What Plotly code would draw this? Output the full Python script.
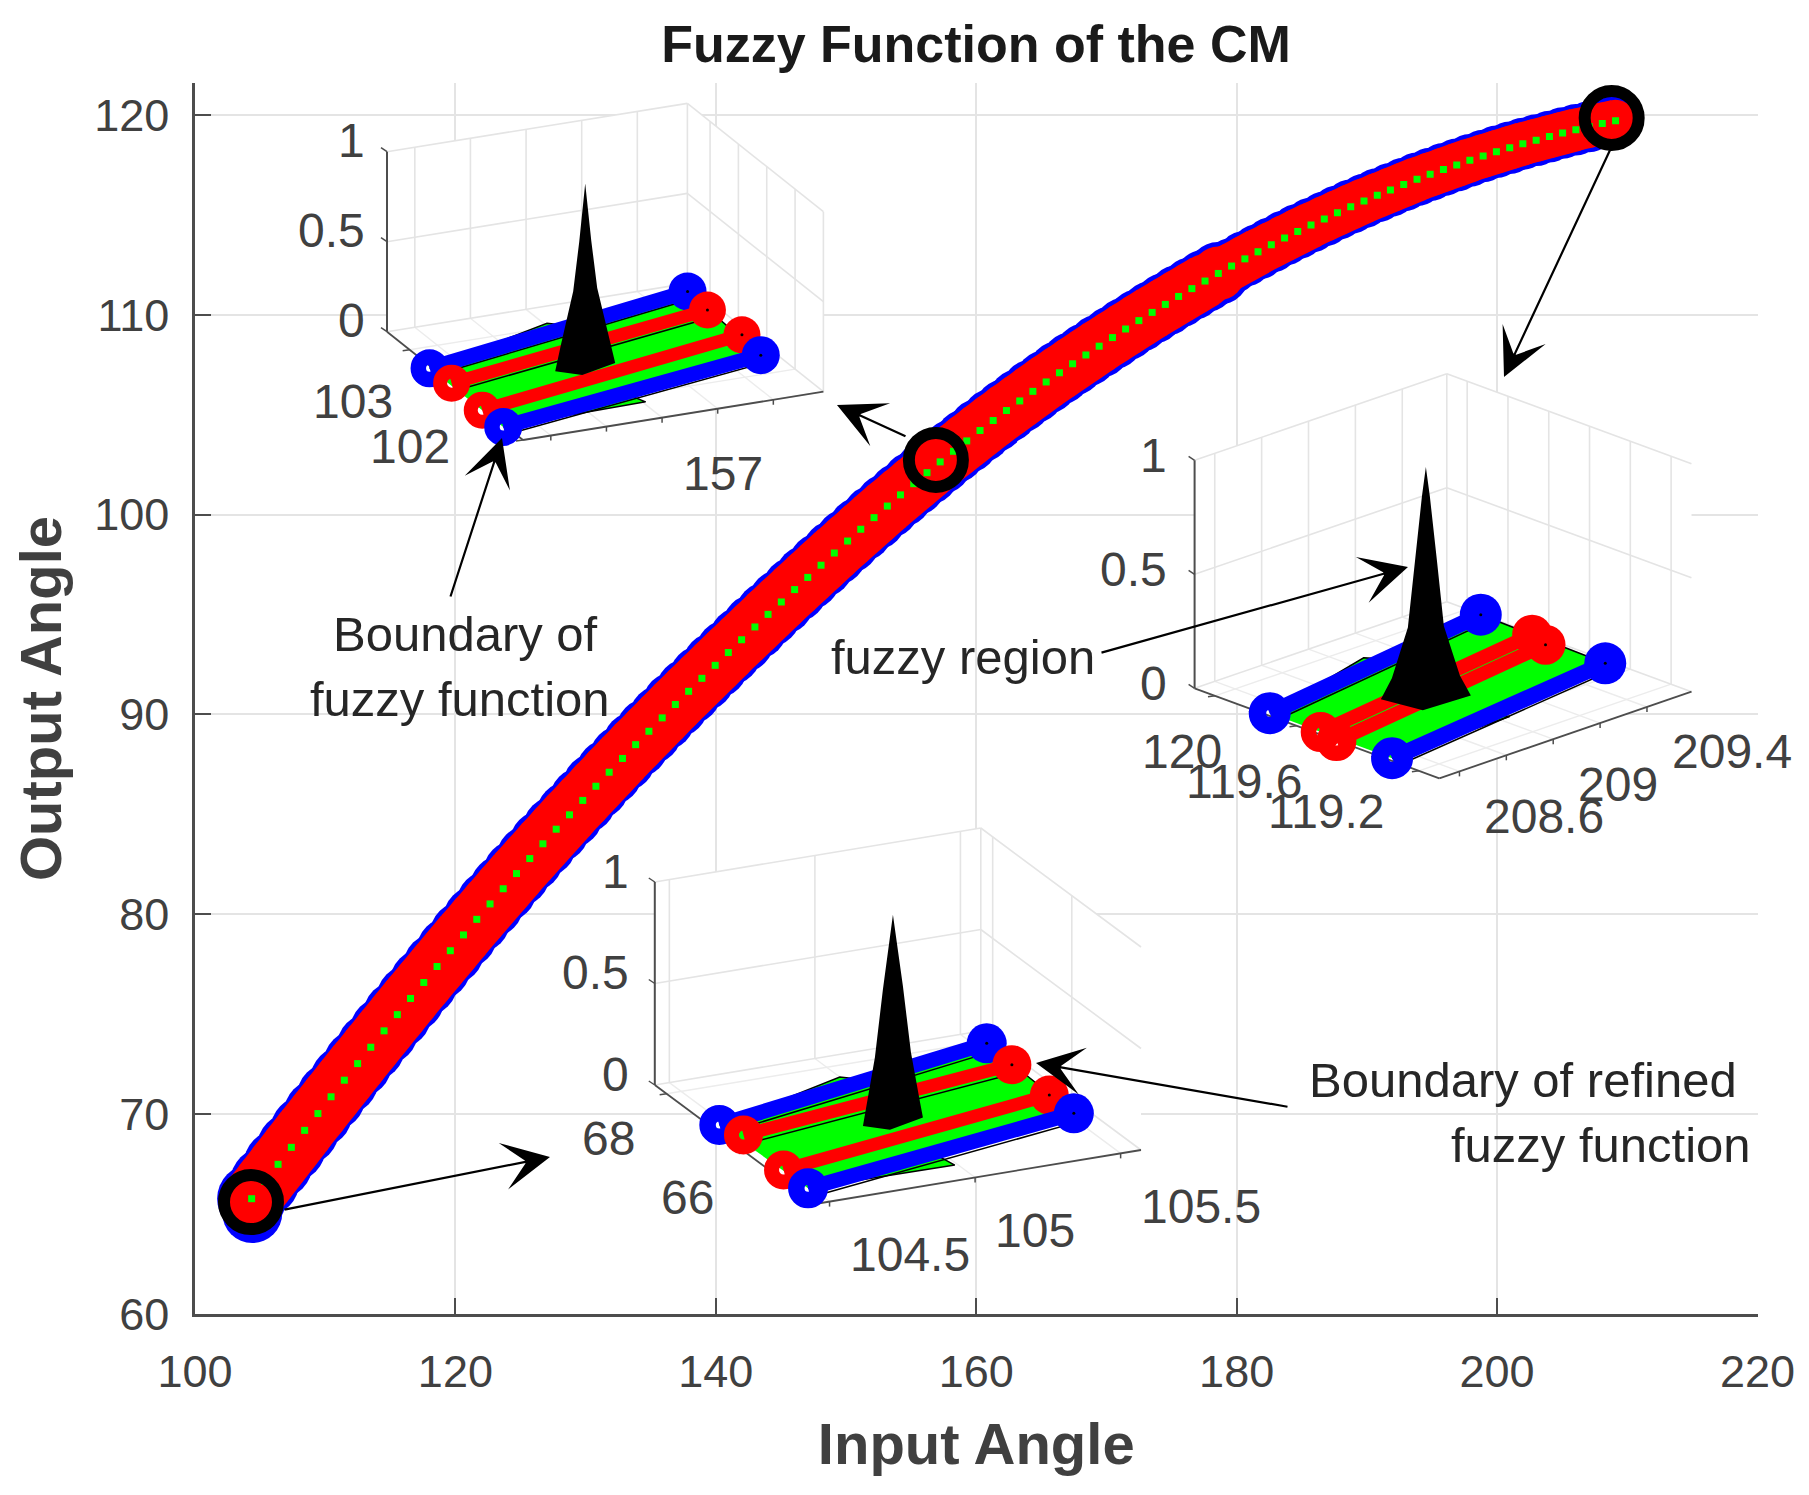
import plotly.graph_objects as go

# ---------------- main curve ----------------
curve_x = [104.35,105.37,106.38,107.40,108.42,109.44,110.45,111.47,112.49,113.50,114.52,115.54,116.55,117.57,118.59,119.61,
           120.62,121.64,122.66,123.67,124.69,125.71,126.72,127.74,128.76,129.78,130.79,131.81,132.83,133.84,134.86,
           135.88,136.89,137.91,138.93,139.95,140.96,141.98,143.00,144.01,145.03,146.05,147.06,148.08,149.10,150.12,
           151.13,152.15,153.17,154.18,155.20,156.22,157.23,158.25,159.27,160.29,161.30,162.32,163.34,164.35,165.37,
           166.39,167.40,168.42,169.44,170.46,171.47,172.49,173.51,174.52,175.54,176.56,177.57,178.59,179.61,
           180.63,181.64,182.66,183.68,184.69,185.71,186.73,187.74,188.76,189.78,190.80,191.81,192.83,193.85,194.86,
           195.88,196.90,197.91,198.93,199.95,200.97,201.98,203.00,204.02,205.03,206.05,207.07,208.08,209.10]
curve_y = [65.77,66.63,67.49,68.34,69.19,70.03,70.87,71.70,72.53,73.35,74.17,74.98,75.79,76.59,77.39,78.18,
           78.97,79.75,80.52,81.28,82.04,82.79,83.53,84.26,84.98,85.70,86.41,87.11,87.80,88.49,89.16,
           89.83,90.50,91.16,91.81,92.46,93.10,93.74,94.38,95.01,95.63,96.25,96.86,97.47,98.08,98.68,
           99.27,99.85,100.43,100.99,101.55,102.10,102.64,103.17,103.69,104.21,104.71,105.21,105.69,106.17,106.64,
           107.10,107.55,107.99,108.43,108.86,109.29,109.71,110.12,110.52,110.92,111.31,111.69,112.07,112.44,
           112.80,113.15,113.50,113.84,114.17,114.49,114.80,115.11,115.41,115.70,115.98,116.25,116.52,116.78,117.03,
           117.27,117.50,117.73,117.95,118.16,118.36,118.56,118.74,118.92,119.10,119.26,119.42,119.57,119.71]
blue_tail_x = [104.4]
blue_tail_y = [65.05]
ring_x = [104.3, 156.9, 208.8]
ring_y = [65.6, 102.74, 119.85]

x_ticks = [100, 120, 140, 160, 180, 200, 220]
y_ticks = [60, 70, 80, 90, 100, 110, 120]

# ---------------- inset: top (around input 157) ----------------
top_u_ticks = [101.5, 102, 102.5, 103, 103.5]
top_v_ticks = [156.6, 156.8, 157.0, 157.2, 157.4]
top_u_labels = [103, 102]
top_v_labels = [157]
top_blue1_u, top_blue1_v = [103.10, 103.75], [156.49, 157.55]
top_blue2_u, top_blue2_v = [101.80, 102.36], [156.49, 157.53]
top_red1_u, top_red1_v = [102.76, 103.35], [156.50, 157.54]
top_red2_u, top_red2_v = [102.17, 102.79], [156.49, 157.55]
top_plate_u, top_plate_v = [103.58, 101.84], [157.01, 157.01]
top_peak_u, top_peak_v = 102.66, 156.96

# ---------------- inset: right (around input 209) ----------------
right_u_ticks = [119.2, 119.4, 119.6, 119.8, 120.0, 120.2]
right_v_ticks = [208.6, 208.8, 209.0, 209.2, 209.4]
right_u_labels = [120, 119.6, 119.2]
right_v_labels = [208.6, 209, 209.4]
right_blue1_u, right_blue1_v = [119.95, 120.13], [208.53, 209.587]
right_blue2_u, right_blue2_v = [119.35, 119.50], [208.53, 209.57]
right_red1_u, right_red1_v = [119.70, 119.87], [208.53, 209.58]
right_red2_u, right_red2_v = [119.60, 119.77], [208.51, 209.55]
right_plate_u, right_plate_v = [120.11, 119.36], [209.07, 209.04]
right_peak_u, right_peak_v = 119.69, 208.97

# ---------------- inset: bottom (around input 105) ----------------
bottom_u_ticks = [66, 68]
bottom_v_ticks = [104.5, 105.0, 105.5]
bottom_u_labels = [68, 66]
bottom_v_labels = [104.5, 105, 105.5]
bottom_blue1_u, bottom_blue1_v = [66.89, 67.93], [104.48, 105.54]
bottom_blue2_u, bottom_blue2_v = [64.72, 65.58], [104.49, 105.52]
bottom_red1_u, bottom_red1_v = [66.50, 67.22], [104.51, 105.53]
bottom_red2_u, bottom_red2_v = [65.34, 66.20], [104.49, 105.52]
bottom_plate_u, bottom_plate_v = [67.67, 64.69], [105.00, 104.99]
bottom_peak_u, bottom_peak_v = 66.18, 104.98

z_ticks = [0, 0.5, 1]
W, H = 1809, 1495
FONT = "Liberation Sans"
GRID = "#e4e4e4"
AXIS = "#4d4d4d"
TXT = "#404040"
BLUE, RED, GREEN = "#0000ff", "#ff0000", "#00ff00"

fig = go.Figure()

# main curve: band width follows the picture (narrower past x=179)
def band(x):
    if x < 179:
        return 69 - (x - 105) * 0.085
    return 56 - (x - 179) * 0.17

blue_sizes = [band(x) for x in curve_x]
red_sizes = [s - 9 for s in blue_sizes]
fig.add_trace(go.Scatter(x=blue_tail_x + curve_x, y=blue_tail_y + curve_y, mode="markers",
                         marker=dict(color=BLUE, size=[60] + blue_sizes, opacity=1, line=dict(width=0)),
                         hoverinfo="skip", showlegend=False))
for i in range(0, len(curve_x) - 1, 4):
    fig.add_trace(go.Scatter(x=curve_x[i:i + 5], y=curve_y[i:i + 5], mode="lines",
                             line=dict(color=RED, width=red_sizes[i + 2 if i + 2 < len(curve_x) else i]),
                             hoverinfo="skip", showlegend=False))
fig.add_trace(go.Scatter(x=curve_x, y=curve_y, mode="markers",
                         marker=dict(color=RED, size=red_sizes, opacity=1, line=dict(width=0)),
                         hoverinfo="skip", showlegend=False))
fig.add_trace(go.Scatter(x=curve_x, y=curve_y, mode="markers",
                         marker=dict(color=GREEN, size=7, opacity=1, symbol="square", line=dict(width=0)),
                         hoverinfo="skip", showlegend=False))
fig.add_trace(go.Scatter(x=ring_x, y=ring_y, mode="markers",
                         marker=dict(color="#000000", size=54, opacity=1, symbol="circle-open",
                                     line=dict(width=12, color="#000000")),
                         hoverinfo="skip", showlegend=False))


def line(xs, ys, color, width):
    fig.add_trace(go.Scatter(x=xs, y=ys, mode="lines", line=dict(color=color, width=width),
                             xaxis="x2", yaxis="y2", hoverinfo="skip", showlegend=False))


def poly(xs, ys, fill, edge=None, width=0):
    fig.add_trace(go.Scatter(x=xs, y=ys, mode="lines", fill="toself", fillcolor=fill,
                             line=dict(color=edge or fill, width=width),
                             xaxis="x2", yaxis="y2", hoverinfo="skip", showlegend=False))


def dot(x, y, color, outer, hole=0):
    if hole:
        w = (outer - hole) / 2
        m = dict(color=color, size=outer - w, opacity=1, symbol="circle-open", line=dict(width=w, color=color))
    else:
        m = dict(color=color, size=outer, opacity=1, line=dict(width=0))
    fig.add_trace(go.Scatter(x=[x], y=[y], mode="markers", marker=m,
                             xaxis="x2", yaxis="y2", hoverinfo="skip", showlegend=False))


annotations = []


def label(x, y, text, size=48, color=TXT, anchor="center"):
    annotations.append(dict(x=x, y=y, xref="x2", yref="y2", text=str(text),
                            showarrow=False, xanchor=anchor, yanchor="middle",
                            font=dict(family=FONT, size=size, color=color)))


def inset(cfg, u_ticks, v_ticks, u_labels, v_labels, b1, b2, r1, r2, plate, peak, cone, sizes):
    (lx, ly), (fx, fy), (rx, ry) = cfg["L"], cfg["F"], cfg["R"]
    uL, uF, vF, vR, zs = cfg["uL"], cfg["uF"], cfg["vF"], cfg["vR"], cfg["zs"]

    def P(u, v, z=0):
        a = (uL - u) / (uL - uF)
        b = (v - vF) / (vR - vF)
        return lx + a * (fx - lx) + b * (rx - fx), ly + a * (fy - ly) + b * (ry - fy) - z * zs

    def seg(p, q, color, w):
        line([p[0], q[0]], [p[1], q[1]], color, w)

    def along(s, t):
        return P(s[0][0] + t * (s[0][1] - s[0][0]), s[1][0] + t * (s[1][1] - s[1][0]))

    corners = [P(uL, vF, 1), P(uL, vR, 1), P(uF, vR, 1), P(uF, vR, 0), P(uF, vF, 0), P(uL, vF, 0)]
    poly([c[0] for c in corners], [c[1] for c in corners], "#ffffff")
    for v in v_ticks:
        seg(P(uL, v, 0), P(uL, v, 1), GRID, 1.6)
        seg(P(uL, v, 0), P(uF, v, 0), "#ececec", 1.4)
    for u in u_ticks:
        seg(P(u, vR, 0), P(u, vR, 1), GRID, 1.6)
        seg(P(u, vF, 0), P(u, vR, 0), "#ececec", 1.4)
    seg(P(uL, vR, 0), P(uL, vR, 1), GRID, 1.6)
    for z in z_ticks:
        seg(P(uL, vF, z), P(uL, vR, z), GRID, 1.6)
        seg(P(uL, vR, z), P(uF, vR, z), GRID, 1.6)
    # dark axes and ticks
    seg(P(uL, vF, 0), P(uL, vF, 1), AXIS, 2)
    seg(P(uL, vF, 0), P(uF, vF, 0), AXIS, 1.8)
    seg(P(uF, vF, 0), P(uF, vR, 0), AXIS, 1.8)
    for z in z_ticks:
        p = P(uL, vF, z)
        seg(p, (p[0] - 6, p[1] - 4), AXIS, 1.5)
        label(p[0] + cfg["z_dx"], p[1] + cfg["z_dy"], z, anchor="right")
    for v in v_ticks:
        p = P(uF, v, 0)
        seg(p, (p[0], p[1] + 5), AXIS, 1.5)
    for u in u_ticks:
        p = P(u, vF, 0)
        seg(p, (p[0] - 7, p[1] + 1), AXIS, 1.5)
    for u in u_labels:
        p = P(u, vF, 0)
        label(p[0] + cfg["u_off"][0], p[1] + cfg["u_off"][1], u, anchor="right")
    for v in v_labels:
        p = P(uF, v, 0)
        label(p[0] + cfg["v_off"][0], p[1] + cfg["v_off"][1], v, anchor="left")

    # green sheet with its small tabs at the plate corners, and black edge
    pts = [P(b1[0][0], b1[1][0]), P(plate[0][0], plate[1][0]), along(b1, 0.55), P(b1[0][1], b1[1][1]),
           P(b2[0][1], b2[1][1]), along(b2, 0.47), P(plate[0][1], plate[1][1]), P(b2[0][0], b2[1][0])]
    poly([p[0] for p in pts], [p[1] for p in pts], GREEN, "#000000", 1.5)
    du = cfg["edge"]
    for s in (b1, r1, b2):
        p = P(s[0][0] - du, s[1][0])
        q = P(s[0][1] - du, s[1][1])
        seg(p, q, "#000000", 1.5)

    blue_w, red_w, blue_o, red_o = sizes
    draw = [(b1, BLUE, blue_w, blue_o), (r1, RED, red_w, red_o), (r2, RED, red_w, red_o), (b2, BLUE, blue_w, blue_o)]
    for s, col, w, o in draw:
        p = P(s[0][0], s[1][0])
        q = P(s[0][1], s[1][1])
        seg(p, q, col, w)
        dot(p[0], p[1], col, o, 7 if col == BLUE else 9)
        dot(q[0], q[1], col, o)
        dot(q[0], q[1], "#000000", 3)

    # membership peak, black silhouette
    c = P(peak[0], peak[1], 0)
    zz, hw, front = cone
    left = [(c[0] - h, c[1] - z * zs) for z, h in zip(zz, hw)]
    right = [(c[0] + h, c[1] - z * zs + cfg["tilt"] * h) for z, h in zip(zz, hw)]
    left = [(x, y - cfg["tilt"] * (c[0] - x)) for x, y in left]
    outline = left + right[::-1][1:] + [(c[0] - 3, c[1] + front)]
    poly([p[0] for p in outline], [p[1] for p in outline], "#000000")


top_cfg = dict(L=(387, 331.7), F=(523, 440), R=(823.4, 391.7), uL=103.9, uF=101.5, vF=156.5, vR=157.58, zs=180,
               z_dx=-20, z_dy=-11, u_off=(-43, 29), v_off=(19, 56), edge=0.14, tilt=-0.14)
right_cfg = dict(L=(1194.6, 688.3), F=(1439.3, 778.3), R=(1691.5, 691.7), uL=120.3, uF=119.1, vF=208.514, vR=209.59,
                 zs=228, z_dx=-26, z_dy=-5, u_off=(-32, 41), v_off=(23, 45), edge=0.06, tilt=-0.04)
bottom_cfg = dict(L=(654.8, 1085), F=(815, 1204), R=(1141, 1150), uL=68.3, uF=64.25, vF=104.45, vR=105.57, zs=203,
                  z_dx=-24, z_dy=-11, u_off=(-30, 45), v_off=(18, 53), edge=0.24, tilt=-0.14)

inset(top_cfg, top_u_ticks, top_v_ticks, top_u_labels, top_v_labels,
      (top_blue1_u, top_blue1_v), (top_blue2_u, top_blue2_v), (top_red1_u, top_red1_v), (top_red2_u, top_red2_v),
      (top_plate_u, top_plate_v), (top_peak_u, top_peak_v),
      ([0, 0.15, 0.43, 0.7, 1.02], [30, 24, 12, 6, 0], 8), (15, 13, 38, 37))
inset(right_cfg, right_u_ticks, right_v_ticks, right_u_labels, right_v_labels,
      (right_blue1_u, right_blue1_v), (right_blue2_u, right_blue2_v), (right_red1_u, right_red1_v),
      (right_red2_u, right_red2_v), (right_plate_u, right_plate_v), (right_peak_u, right_peak_v),
      ([0, 0.09, 0.31, 0.6, 0.88, 1.01], [45, 34, 18, 11, 4, 0], 13), (16, 14, 42, 40))
inset(bottom_cfg, bottom_u_ticks, bottom_v_ticks, bottom_u_labels, bottom_v_labels,
      (bottom_blue1_u, bottom_blue1_v), (bottom_blue2_u, bottom_blue2_v), (bottom_red1_u, bottom_red1_v),
      (bottom_red2_u, bottom_red2_v), (bottom_plate_u, bottom_plate_v), (bottom_peak_u, bottom_peak_v),
      ([0, 0.08, 0.33, 0.66, 1.02], [30, 27, 18, 10, 0], 8), (15, 13, 40, 39))

# free annotation text
label(465, 634, "Boundary of", size=49, color="#262626")
label(460, 699, "fuzzy function", size=49, color="#262626")
label(963, 657, "fuzzy region", size=49, color="#262626")
label(1523, 1080, "Boundary of refined", size=49, color="#262626")
label(1601, 1145, "fuzzy function", size=49, color="#262626")

# arrows: (tail x, tail y, tip x, tip y)
arrows = [(283, 1210, 550, 1157), (907, 437, 837, 405), (1611, 148, 1504, 377),
          (450, 598, 502, 438), (1100, 653, 1408, 567), (1289, 1107, 1036, 1063)]
for ax, ay, tx, ty in arrows:
    annotations.append(dict(x=tx, y=ty, ax=ax, ay=ay, xref="x2", yref="y2", axref="x2", ayref="y2",
                            showarrow=True, arrowhead=3, arrowsize=3.6, arrowwidth=2.2, arrowcolor="#000000",
                            standoff=0, startstandoff=0, text=""))

ax_common = dict(showline=True, linecolor=AXIS, linewidth=2.5, ticks="inside", ticklen=16, tickwidth=2,
                 tickcolor=AXIS, showgrid=True, gridcolor=GRID, gridwidth=2, zeroline=False, mirror=False,
                 tickfont=dict(family=FONT, size=45, color=TXT), fixedrange=True)

fig.update_layout(
    width=W, height=H, margin=dict(l=0, r=0, t=0, b=0, pad=0),
    paper_bgcolor="#ffffff", plot_bgcolor="rgba(0,0,0,0)", showlegend=False, annotations=annotations,
    title=dict(text="<b>Fuzzy Function of the CM</b>", x=976 / W, y=1 - 44 / H, xanchor="center", yanchor="middle",
               xref="paper", yref="paper", font=dict(family=FONT, size=52, color="#1a1a1a")),
    xaxis=dict(domain=[195 / W, 1757.5 / W], range=[100, 220], tickvals=x_ticks, ticklabelstandoff=16,
               title=dict(text="<b>Input Angle</b>", standoff=28, font=dict(family=FONT, size=58, color=TXT)),
               anchor="y", automargin=False, **ax_common),
    yaxis=dict(domain=[(H - 1314) / H, (H - 83) / H], range=[60, 121.6], tickvals=y_ticks, ticklabelstandoff=14,
               title=dict(text="<b>Output Angle</b>", standoff=14, font=dict(family=FONT, size=58, color=TXT)),
               anchor="x", automargin=False, **ax_common),
    xaxis2=dict(domain=[0, 1], range=[0, W], anchor="y2", visible=False, fixedrange=True),
    yaxis2=dict(domain=[0, 1], range=[H, 0], anchor="x2", visible=False, fixedrange=True),
)

fig.write_html("out.html", config=dict(displayModeBar=False),
               post_script="document.body.style.margin='0';document.body.style.overflow='hidden';")
